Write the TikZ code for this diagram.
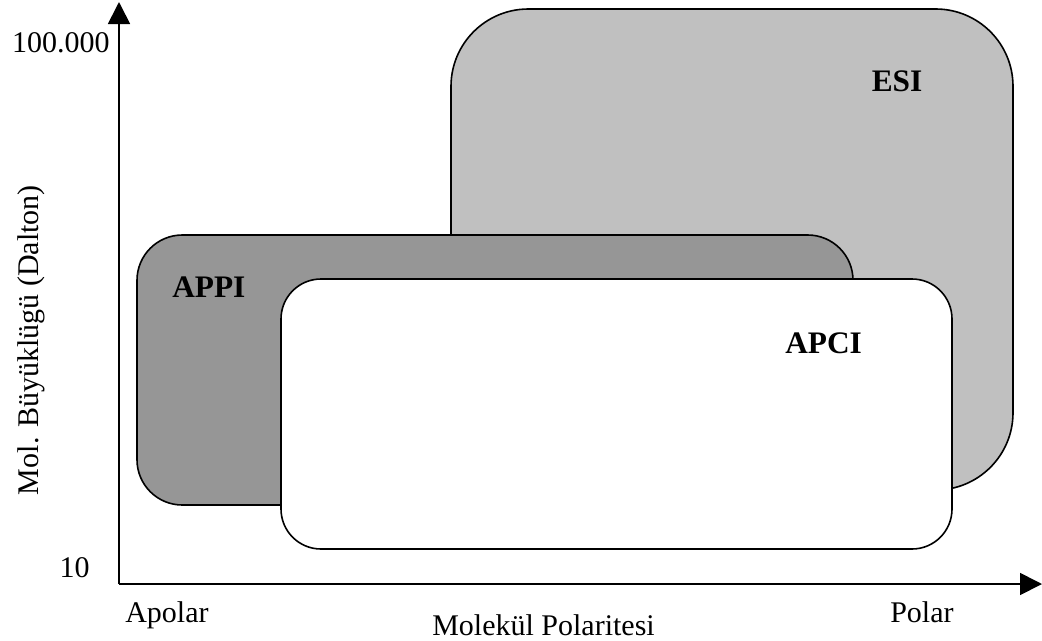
\documentclass[tikz,border=0pt]{standalone}
\usepackage{fontspec}
\setmainfont{Liberation Serif}
\usetikzlibrary{arrows.meta}
\begin{document}
\begin{tikzpicture}[x=0.75pt,y=-0.75pt,
  region/.style={draw=black,line width=1.2pt,rounded corners=#1,inner sep=0pt,outer sep=0pt},
  axis/.style={line width=1.3pt,-{Triangle[length=16.5pt,width=16.5pt]}},
  lbl/.style={font=\fontsize{22.5}{26}\selectfont,inner sep=0pt},
  blbl/.style={font=\fontsize{23.5}{26}\selectfont\bfseries,inner sep=0pt}]
\useasboundingbox (0,0) rectangle (1042,640);
% regions
\node[region=58pt,fill={rgb,255:red,192;green,192;blue,192},minimum width={562*0.75pt},minimum height={481*0.75pt}] (esi) at (732,249.5) {};
\node[region=34pt,fill={rgb,255:red,150;green,150;blue,150},minimum width={716*0.75pt},minimum height={270*0.75pt}] (appi) at (495,370) {};
\node[region=30pt,fill=white,minimum width={671*0.75pt},minimum height={270*0.75pt}] (apci) at (616.5,414) {};
% labels
\node[blbl,anchor=base] (esil) at (897,91) {ESI};
\node[blbl,anchor=base west] (appil) at (172,297) {APPI};
\node[blbl,anchor=base west] (apcil) at (785,353) {APCI};
% axes
\coordinate (o) at (119,584);
\coordinate (ytop) at (119,2);
\coordinate (xend) at (1042,584);
\draw[axis] (o) -- (ytop);
\draw[axis] (o) -- (xend);
\node[lbl,anchor=base east] (ymax) at (110,52) {100.000};
\node[lbl,anchor=base east] (ymin) at (90,577) {10};
\node[lbl,anchor=base west] (apolar) at (125,622) {Apolar};
\node[lbl,anchor=base west] (polar) at (890,622) {Polar};
\node[lbl,anchor=base west] (xlab) at (432,635) {Molekül Polaritesi};
\node[lbl,rotate=90,anchor=base] (ylab) at (38,340) {Mol. Büyüklügü (Dalton)};
\end{tikzpicture}
\end{document}
